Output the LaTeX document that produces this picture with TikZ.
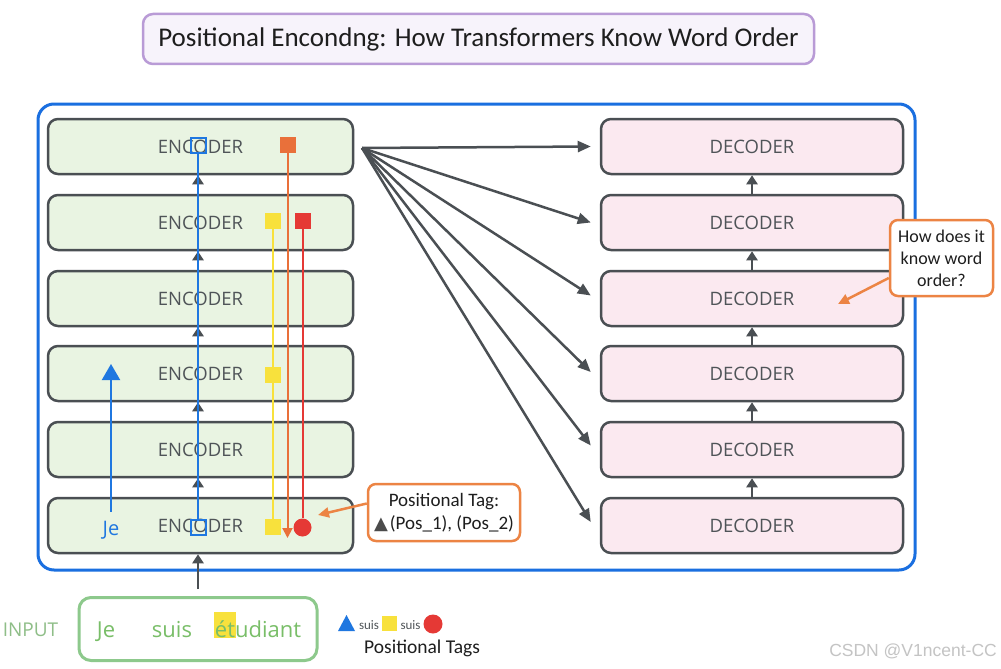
\documentclass[tikz,border=0pt]{standalone}
\usepackage{fontspec}
\setmainfont{Open Sans}
\newfontfamily\calfont{Carlito}
\newfontfamily\arialfont{Liberation Sans}
\newfontfamily\symfont{DejaVu Sans}
\usetikzlibrary{arrows.meta}
\definecolor{encfill}{HTML}{E9F4E2}
\definecolor{decfill}{HTML}{FBE9F0}
\definecolor{boxline}{HTML}{4A4F53}
\definecolor{lbltext}{HTML}{4F5458}
\definecolor{bluec}{HTML}{1F77E0}
\definecolor{outerblue}{HTML}{1A6FE0}
\definecolor{yellowc}{HTML}{F8E13C}
\definecolor{orangec}{HTML}{E9703A}
\definecolor{redc}{HTML}{E53935}
\definecolor{callout}{HTML}{EC8444}
\definecolor{titleline}{HTML}{B99BD6}
\definecolor{titlefill}{HTML}{F7F3FB}
\definecolor{inputline}{HTML}{8DC98C}
\definecolor{inputtext}{HTML}{79BE68}
\definecolor{inputlbl}{HTML}{8FBE88}
\definecolor{wm}{HTML}{C4C4C4}
\definecolor{darktext}{HTML}{1E1E1E}
\begin{document}
\begin{tikzpicture}[x=1pt,y=-1pt,
  layer/.style={draw=boxline, line width=2.5pt, rounded corners=10pt, minimum height=55pt, inner sep=0pt, text=lbltext, font=\fontsize{18.5}{20}\selectfont},
  enc/.style={layer, fill=encfill, minimum width=305pt},
  dec/.style={layer, fill=decfill, minimum width=302pt},
  uparrow/.style={draw=boxline, line width=2.5pt, -{Triangle[length=9pt,width=11pt]}},
  fanarrow/.style={draw=boxline, line width=2.5pt, -{Triangle[length=13pt,width=11pt]}},
  calloutbox/.style={draw=callout, line width=2.5pt, rounded corners=8pt, fill=white, align=center, text=darktext},
  calloutarrow/.style={draw=callout, line width=2.5pt, -{Triangle[length=11pt,width=10pt]}},
  tagsq/.style={minimum size=16pt, inner sep=0pt},
  tagline/.style={line width=2pt},
  inword/.style={anchor=base, text=inputtext, font=\fontsize{22}{24}\selectfont},
  smallsuis/.style={anchor=base, text=lbltext, font=\calfont\fontsize{13}{14}\selectfont},
]
\useasboundingbox (0,0) rectangle (1001,669);
\fill[white] (0,0) rectangle (1001,669);

% title
\node[draw=titleline, fill=titlefill, line width=2.5pt, rounded corners=10pt,
      minimum width=671pt, minimum height=50pt, text=darktext,
      font=\calfont\fontsize{27}{29}\selectfont] (title) at (478.5,39)
      {Positional Encondng: How Transformers Know Word Order};

% frame
\node[draw=outerblue, line width=3pt, rounded corners=16pt,
      minimum width=877pt, minimum height=466pt] (frame) at (476.5,337) {};

% encoders and decoders
\foreach \i/\y in {1/146.5,2/222.5,3/298.5,4/373.5,5/449.5,6/525.5} {
  \node[enc] (e\i) at (200.5,\y) {ENCODER};
  \node[dec] (d\i) at (752,\y) {DECODER};
}
\foreach \a/\b in {6/5,5/4,4/3,3/2,2/1} {
  \draw[uparrow] ([xshift=-2.5pt]e\a.north) -- ([xshift=-2.5pt]e\b.south);
  \draw[uparrow] (d\a.north) -- (d\b.south);
}

% fan of arrows
\coordinate (fan) at (362,148);
\foreach \i/\dy in {1/0,2/0,3/3,4/1.5,5/4,6/3.5} {
  \draw[fanarrow] (fan) -- ([xshift=-9pt,yshift=\dy pt]d\i.west);
}

% input
\node[draw=inputline, line width=3pt, rounded corners=12pt, fill=white,
      minimum width=238pt, minimum height=63pt] (input) at (198,629) {};
\fill[yellowc] (214,612) rectangle (236,638);
\node[inword] (w1) at (106,637) {Je};
\node[inword] (w2) at (172,637) {suis};
\node[inword] (w3) at (258,637) {étudiant};
\node[anchor=base, text=inputlbl, font=\fontsize{19}{21}\selectfont] (inlbl) at (30.5,636) {INPUT};
\draw[uparrow] ([yshift=7pt]input.north) -- ([xshift=-2.5pt]e6.south);

% blue path
\node[draw=bluec, line width=2pt, minimum size=15pt, inner sep=0pt] (bsq1) at (198,145) {};
\node[draw=bluec, line width=2pt, minimum size=15pt, inner sep=0pt] (bsq6) at (198,527) {};
\draw[bluec, tagline] (bsq6.north) -- (bsq1.south);

% Je arrow
\node[text=bluec, font=\fontsize{20}{22}\selectfont, inner sep=1pt] (je) at (111,530) {Je};
\coordinate (jetip) at (111,364);
\draw[bluec, tagline, -{Triangle[length=16pt,width=18pt]}] ([yshift=8pt]je.north) -- (jetip);

% yellow path
\node[tagsq, fill=yellowc] (ys1) at (272.5,221) {};
\node[tagsq, fill=yellowc] (ys2) at (272.5,375) {};
\node[tagsq, fill=yellowc] (ys3) at (272.5,527) {};
\draw[yellowc, tagline] (ys1.south) -- (ys2.north);
\draw[yellowc, tagline] (ys2.south) -- (ys3.north);

% orange path
\node[tagsq, fill=orangec] (os1) at (287.5,145) {};
\coordinate (otip) at (287.5,538);
\draw[orangec, tagline, -{Triangle[length=10pt,width=10pt]}] (os1.south) -- (otip);

% red path
\node[tagsq, fill=redc] (rs1) at (302.5,221) {};
\node[circle, fill=redc, minimum size=18pt, inner sep=0pt] (rc) at (302.5,527.5) {};
\draw[redc, tagline] (rs1.south) -- (rc.north);

% callout 1
\node[calloutbox, minimum width=152pt, minimum height=57pt, inner sep=2pt,
      font=\calfont\fontsize{19}{23}\selectfont] (tagbox) at (444,512.5)
  {Positional Tag:\\{\symfont\fontsize{18}{18}\selectfont\color{darktext!80}▲}\kern2pt(Pos\_1), (Pos\_2)};
\coordinate (tagtip) at (318,515);
\draw[calloutarrow] ([yshift=9pt]tagbox.west) -- (tagtip);

% callout 2
\node[calloutbox, minimum width=103pt, minimum height=76pt, inner sep=2pt,
      font=\calfont\fontsize{18}{22}\selectfont] (qbox) at (941.5,258)
  {How does it\\know word\\order?};
\coordinate (qtip) at (838,304);
\draw[calloutarrow] ([yshift=-20pt]qbox.west) -- (qtip);

% legend
\fill[bluec] (338,631) -- (355,631) -- (346.5,615) -- cycle;
\node[smallsuis] (s1) at (369,629) {suis};
\fill[yellowc] (382,616) rectangle (397,631);
\node[smallsuis] (s2) at (410.5,629) {suis};
\fill[redc] (433,624) circle (9.5);
\node[anchor=base west, text=darktext, font=\calfont\fontsize{19.5}{21}\selectfont, inner sep=0pt] (ptags) at (364,653) {Positional Tags};

% watermark
\node[anchor=east, text=wm, font=\arialfont\fontsize{17.5}{19}\selectfont, inner sep=0pt] (wmk) at (997,651) {CSDN @V1ncent-CC};
\end{tikzpicture}
\end{document}
